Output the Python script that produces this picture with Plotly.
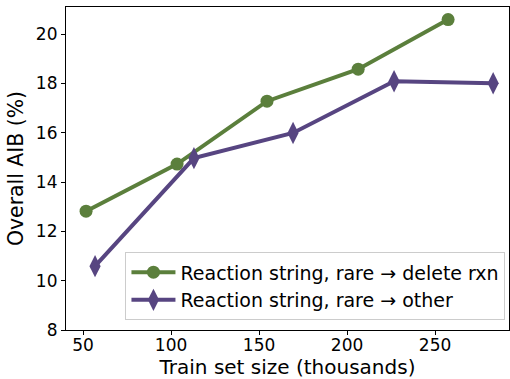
import plotly.graph_objects as go

green_x = [51.7, 103.4, 154.5, 206.3, 257.4]
green_y = [12.82, 14.73, 17.28, 18.58, 20.59]
purple_x = [56.8, 113.0, 169.3, 226.7, 283.0]
purple_y = [10.59, 14.97, 15.99, 18.09, 18.01]
names = ["Reaction string, rare \u2192 delete rxn", "Reaction string, rare \u2192 other"]
x_ticks = [50, 100, 150, 200, 250]
y_ticks = [8, 10, 12, 14, 16, 18, 20]

green = "#5b7f3c"
purple = "#574581"

fig = go.Figure()
fig.add_trace(go.Scatter(x=green_x, y=green_y, name=names[0], mode="lines+markers",
                         line=dict(color=green, width=4),
                         marker=dict(symbol="circle", size=13, color=green)))
fig.add_trace(go.Scatter(x=purple_x, y=purple_y, name=names[1], mode="lines+markers",
                         line=dict(color=purple, width=4),
                         marker=dict(symbol="diamond-tall", size=16, color=purple)))

font = "DejaVu Sans"
fig.update_layout(
    width=510, height=379,
    margin=dict(l=66, r=1, t=7, b=49),
    plot_bgcolor="white", paper_bgcolor="white",
    font=dict(family=font, color="black"),
    showlegend=True,
    legend=dict(x=0.992, y=0.03, xanchor="right", yanchor="bottom",
                bgcolor="rgba(255,255,255,0.8)", bordercolor="#cccccc", borderwidth=1,
                font=dict(size=19, family=font), tracegroupgap=0, itemwidth=44),
    xaxis=dict(range=[40.3, 292], tickvals=x_ticks, ticks="outside", ticklen=4,
               tickcolor="black", showline=True, linecolor="black", linewidth=1.2, mirror=True,
               showgrid=False, zeroline=False, tickfont=dict(size=17), automargin=False,
               ticklabelstandoff=-5,
               title=dict(text="Train set size (thousands)", font=dict(size=20), standoff=6)),
    yaxis=dict(range=[8, 21.1], tickvals=y_ticks, ticks="outside", ticklen=4,
               tickcolor="black", showline=True, linecolor="black", linewidth=1.2, mirror=True,
               showgrid=False, zeroline=False, tickfont=dict(size=17), automargin=False,
               title=dict(text="Overall AIB (%)", font=dict(size=20.4), standoff=6)),
)
fig.write_html("out.html")
